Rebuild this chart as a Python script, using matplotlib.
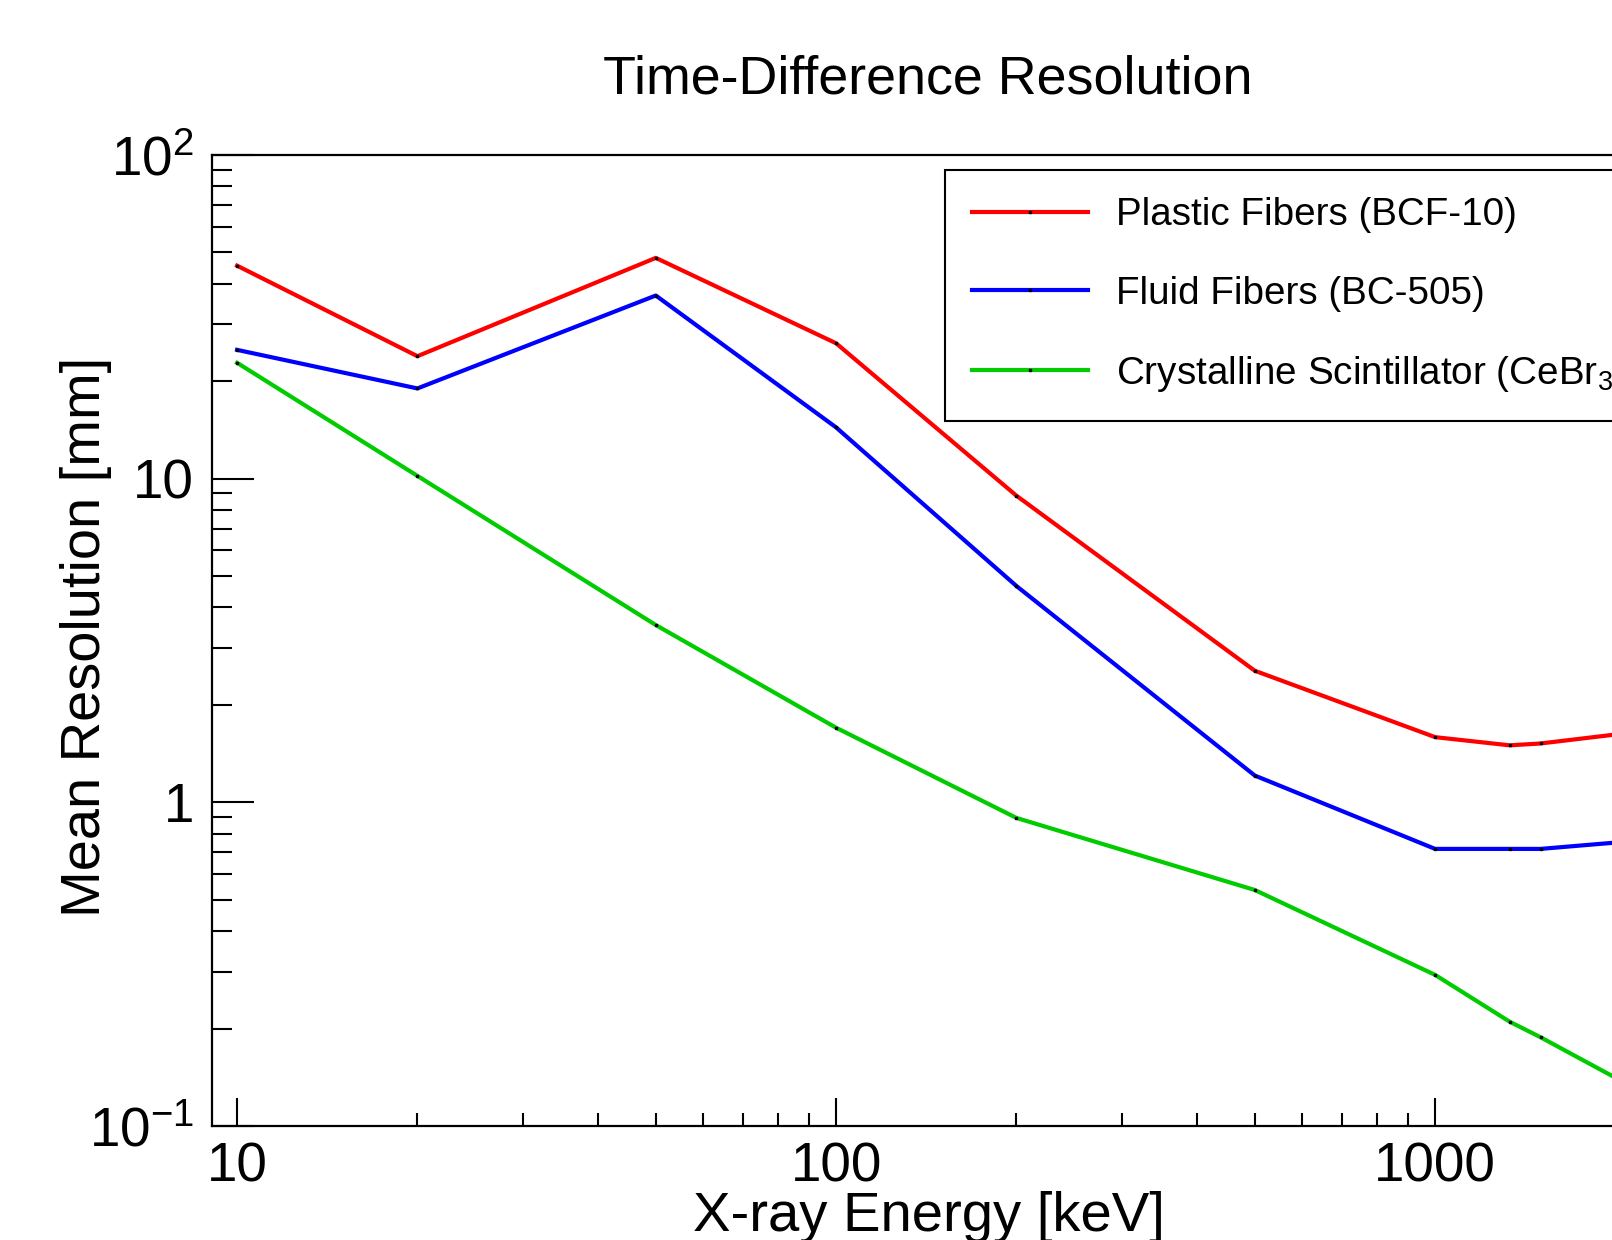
import numpy as np
import matplotlib
matplotlib.use("Agg")
import matplotlib.pyplot as plt
from matplotlib.ticker import LogLocator, FuncFormatter, NullFormatter, FixedLocator

plt.rcParams['font.family'] = ['Liberation Sans', 'DejaVu Sans']
plt.rcParams['mathtext.fontset'] = 'custom'
plt.rcParams['mathtext.rm'] = 'Liberation Sans'
plt.rcParams['mathtext.it'] = 'Liberation Sans'
plt.rcParams['mathtext.default'] = 'regular'

# data
energy_kev = [10, 20, 50, 100, 200, 500, 1000, 1332, 1500, 2000]
plastic_bcf10 = [45.5, 23.9, 48.1, 26.2, 8.86, 2.55, 1.59, 1.50, 1.52, 1.62]
fluid_bc505 = [25.0, 19.0, 36.8, 14.4, 4.66, 1.21, 0.718, 0.718, 0.718, 0.751]
crystal_cebr3 = [22.8, 10.2, 3.53, 1.70, 0.895, 0.536, 0.293, 0.210, 0.188, 0.141]

labels = ["Plastic Fibers (BCF-10)", "Fluid Fibers (BC-505)",
          "Crystalline Scintillator (CeBr$_{3}$)"]
colors = ["#ff0000", "#0000ff", "#00cc00"]

W, H = 1612, 1240
fig = plt.figure(figsize=(W / 100, H / 100), dpi=100)

xmin, xmax = 9.08, 3000
px_per_dec = 599
left_px, top_px, bot_px = 212, 155, 1126
width_px = np.log10(xmax / xmin) * px_per_dec
ax = fig.add_axes([left_px / W, 1 - bot_px / H, width_px / W, (bot_px - top_px) / H])

for ys, c, lab in zip([plastic_bcf10, fluid_bc505, crystal_cebr3], colors, labels):
    ax.plot(energy_kev, ys, color=c, lw=3.0, label=lab,
            marker='s', ms=1.6, mfc='k', mec='k')

ax.set_xscale('log')
ax.set_yscale('log')
ax.set_xlim(xmin, xmax)
ax.set_ylim(0.1, 100)

for s in ax.spines.values():
    s.set_linewidth(1.6)

ax.xaxis.set_major_locator(FixedLocator([10, 100, 1000]))
ax.xaxis.set_minor_locator(LogLocator(base=10, subs=np.arange(2, 10)))
ax.xaxis.set_major_formatter(FuncFormatter(lambda v, p: "%d" % v))
ax.xaxis.set_minor_formatter(NullFormatter())

ylab = {100: r"$10^{2}$", 10: "10", 1: "1", 0.1: r"$10^{-1}$"}
ax.yaxis.set_major_locator(FixedLocator([0.1, 1, 10, 100]))
ax.yaxis.set_minor_locator(LogLocator(base=10, subs=np.arange(2, 10)))
ax.yaxis.set_major_formatter(FuncFormatter(
    lambda v, p: min(ylab.items(), key=lambda kv: abs(np.log10(kv[0]) - np.log10(v)))[1]))
ax.yaxis.set_minor_formatter(NullFormatter())

ax.tick_params(axis='both', which='both', direction='in', top=False, right=False,
               width=1.5, labelsize=39.5)
ax.tick_params(axis='x', which='major', length=20, pad=11)
ax.tick_params(axis='x', which='minor', length=9.5)
ax.tick_params(axis='y', which='major', length=30, pad=13)
ax.tick_params(axis='y', which='minor', length=14.5)

fig.text(928 / W, 1 - 94 / H, "Time-Difference Resolution", fontsize=38.8,
         ha='center', va='baseline')
fig.text(929 / W, 1 - 1231 / H, "X-ray Energy [keV]", fontsize=40.5,
         ha='center', va='baseline')
fig.text(100 / W, 1 - 637 / H, "Mean Resolution [mm]", fontsize=40.3,
         rotation=90, rotation_mode='anchor', ha='center', va='baseline')

leg = ax.legend(loc='upper left', bbox_to_anchor=(945 / W, 1 - 170 / H),
                bbox_transform=fig.transFigure, fontsize=27.8, frameon=True,
                fancybox=False, shadow=False, framealpha=1, edgecolor='black',
                borderpad=0.7, handlelength=3.0, handletextpad=0.72,
                labelspacing=1.1, numpoints=1, borderaxespad=0)
leg.get_frame().set_linewidth(1.5)

fig.savefig("out.png", dpi=100)
